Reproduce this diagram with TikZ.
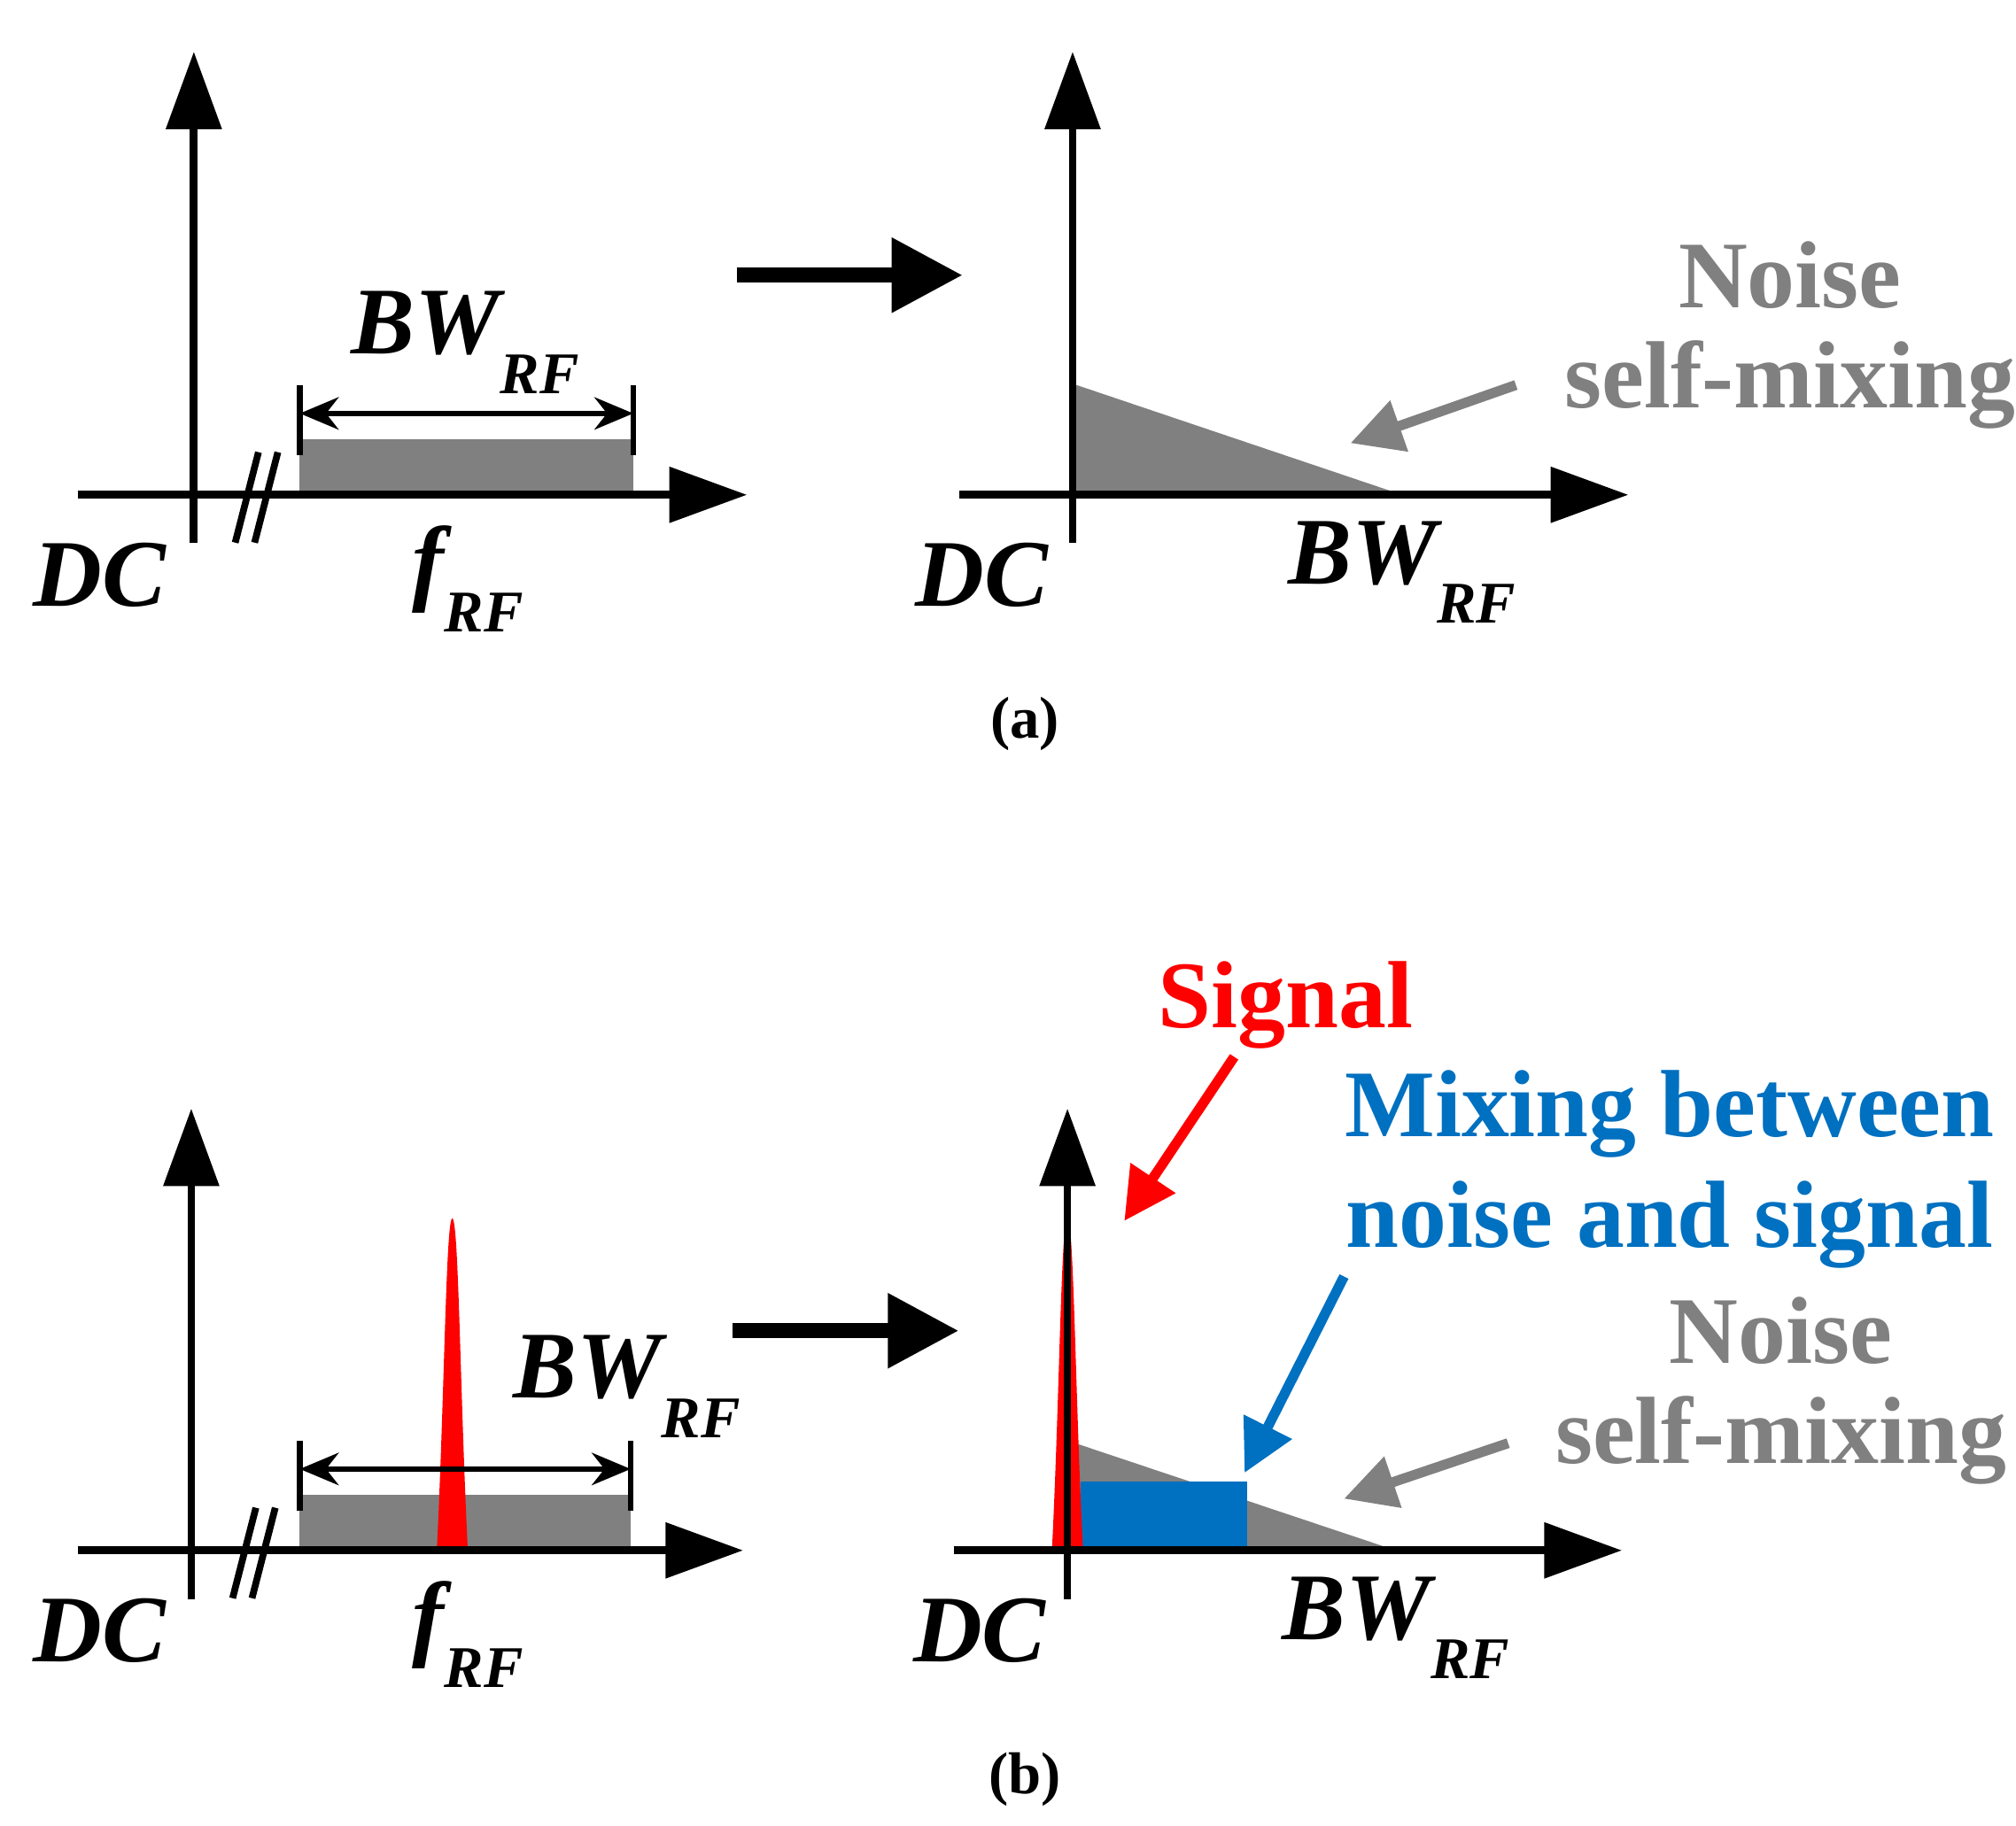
\documentclass[tikz,border=0pt]{standalone}
\usepackage{fontspec}
\setmainfont{Liberation Serif}
\usetikzlibrary{arrows.meta}
\definecolor{ngray}{HTML}{808080}
\definecolor{nblue}{HTML}{0070C0}
\newcommand\mybig{\fontsize{21}{24}\selectfont\bfseries}
\newcommand\mysub[1]{\raisebox{-0.9ex}{\fontsize{13}{14}\selectfont\bfseries\itshape #1}}
\begin{document}
\begin{tikzpicture}[x=0.01cm,y=-0.01cm,
 ax/.style={line width=1.7pt,-{Triangle[length=0.6cm,width=0.42cm]}},
 big/.style={line width=3.4pt,-{Triangle[length=0.55cm,width=0.55cm]}},
 dim/.style={line width=1.2pt,{Stealth[length=0.3cm,width=0.25cm]}-{Stealth[length=0.3cm,width=0.25cm]}},
 lab/.style={font=\mybig\itshape,inner sep=0},
 gtxt/.style={font=\mybig,text=ngray,inner sep=0},
 btxt/.style={font=\mybig,text=nblue,inner sep=0},
 garr/.style={ngray,line width=2.2pt,-{Triangle[length=0.4cm,width=0.4cm]}},
 captxt/.style={font=\fontsize{13}{15}\selectfont\bfseries,inner sep=0}]
\useasboundingbox (0,0) rectangle (1560,1413);
% ---------- (a) left
\fill[ngray] (232,340) rectangle (490,383);
\draw[ax] (150,420) -- (150,40);
\draw[ax] (60,383) -- (578,383);
\draw[line width=1.5pt] (182,420) -- (200,350) (197,420) -- (215,350);
\draw[line width=1.2pt] (232,298) -- (232,352) (490,298) -- (490,352);
\coordinate (dl) at (232,320); \coordinate (dr) at (490,320);
\draw[dim] (dl) -- (dr);
\node[lab] (bwa) at (360,265) {BW\mysub{RF}};
\node[lab] (dca) at (77,445) {DC};
\node[lab] (fa) at (362,448) {f\mysub{RF}};
\coordinate (ma1) at (570,213); \coordinate (ma2) at (745,213);
\draw[big] (ma1) -- (ma2);
% (a) right
\fill[ngray] (830,297) -- (1085,383) -- (830,383) -- cycle;
\draw[ax] (830,420) -- (830,40);
\draw[ax] (742,383) -- (1260,383);
\node[gtxt] (na) at (1385,213) {Noise};
\node[gtxt] (sa) at (1385,298) {self-mixing};
\coordinate (ga1) at (1173,298); \coordinate (ga2) at (1045,343);
\draw[garr] (ga1) -- (ga2);
\node[lab] (dcb) at (760,445) {DC};
\node[lab] (bwb) at (1085,443) {BW\mysub{RF}};
\node[captxt] (ca) at (793,560) {(a)};
% ---------- (b) left
\fill[ngray] (232,1157) rectangle (488,1200);
\fill[red] (338,1200) .. controls (344,1080) and (345,943) .. (350,943) .. controls (355,943) and (356,1080) .. (362,1200) -- cycle;
\draw[ax] (148,1238) -- (148,858);
\draw[ax] (60,1200) -- (575,1200);
\draw[line width=1.5pt] (180,1237) -- (198,1167) (195,1237) -- (213,1167);
\draw[line width=1.2pt] (232,1115) -- (232,1169) (488,1115) -- (488,1169);
\coordinate (el) at (232,1137); \coordinate (er) at (488,1137);
\draw[dim] (el) -- (er);
\node[lab] (bwc) at (485,1073) {BW\mysub{RF}};
\node[lab] (dcc) at (77,1262) {DC};
\node[lab] (fb) at (362,1265) {f\mysub{RF}};
\coordinate (mb1) at (567,1030); \coordinate (mb2) at (742,1030);
\draw[big] (mb1) -- (mb2);
% (b) right
\fill[ngray] (826,1115) -- (1080,1200) -- (826,1200) -- cycle;
\fill[nblue] (836,1147) rectangle (965,1198);
\fill[red] (814,1200) .. controls (820,1080) and (821,943) .. (826,943) .. controls (831,943) and (832,1080) .. (838,1200) -- cycle;
\draw[ax] (826,1238) -- (826,858);
\draw[ax] (738,1200) -- (1255,1200);
\node[font=\mybig,text=red,inner sep=0] (sig) at (995,778) {Signal};
\coordinate (r1) at (955,818); \coordinate (r2) at (870,945);
\draw[red,line width=2.2pt,-{Triangle[length=0.4cm,width=0.4cm]}] (r1) -- (r2);
\node[btxt] (mx1) at (1292,862) {Mixing between};
\node[btxt] (mx2) at (1292,948) {noise and signal};
\coordinate (b1) at (1040,988); \coordinate (b2) at (963,1140);
\draw[nblue,line width=2.2pt,-{Triangle[length=0.4cm,width=0.4cm]}] (b1) -- (b2);
\node[gtxt] (nb) at (1378,1030) {Noise};
\node[gtxt] (sb) at (1378,1115) {self-mixing};
\coordinate (gb1) at (1167,1117); \coordinate (gb2) at (1040,1160);
\draw[garr] (gb1) -- (gb2);
\node[lab] (dcd) at (758,1262) {DC};
\node[lab] (bwd) at (1080,1260) {BW\mysub{RF}};
\node[captxt] (cb) at (793,1377) {(b)};
\end{tikzpicture}
\end{document}
